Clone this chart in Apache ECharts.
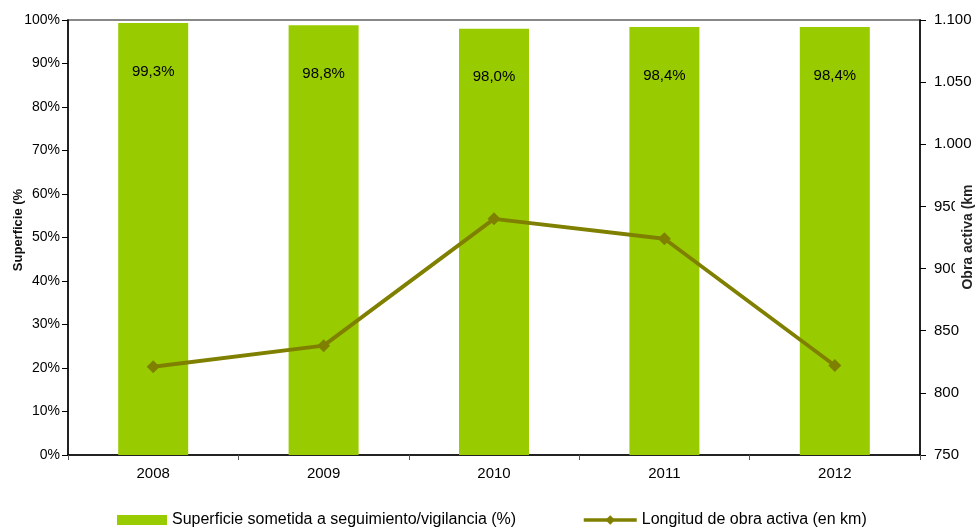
<!DOCTYPE html>
<html>
<head>
<meta charset="utf-8">
<script src="https://cdn.jsdelivr.net/npm/echarts@6/dist/echarts.min.js"></script>
<style>
  html, body { margin: 0; padding: 0; background: #fff; }
  #chart { width: 976px; height: 528px; }
</style>
</head>
<body>
<div id="chart"></div>
<script>
// Years on the category axis
const years = ['2008', '2009', '2010', '2011', '2012'];
// Share of surface under monitoring (%)
const superficie = [99.3, 98.8, 98.0, 98.4, 98.4];
// Length of active works (km)
const longitud = [821, 838, 940, 924, 822];

const barName = 'Superficie sometida a seguimiento/vigilancia (%)';
const lineName = 'Longitud de obra activa (en km)';
const FONT = '"Liberation Sans", Arial, sans-serif';
const TITLE_FONT = '"Liberation Sans Narrow", "Liberation Sans", Arial, sans-serif';

const chart = echarts.init(document.getElementById('chart'), null, { renderer: 'canvas' });

chart.setOption({
  backgroundColor: '#ffffff',
  animation: false,
  textStyle: { fontFamily: FONT },
  grid: {
    left: 68, right: 56, top: 20, bottom: 73,
    show: true, borderColor: '#888888', borderWidth: 2,
    containLabel: false
  },
  legend: [
    {
      data: [{ name: barName, icon: 'rect' }], left: 117, top: 512, padding: 0,
      itemWidth: 50, itemHeight: 10, itemGap: 5,
      textStyle: { fontFamily: FONT, fontSize: 16, color: '#000' }
    },
    {
      data: [lineName], left: 582, top: 512, padding: 0,
      itemWidth: 53, itemHeight: 12, itemGap: 2,
      lineStyle: { width: 3.5 },
      textStyle: { fontFamily: FONT, fontSize: 16, color: '#000' }
    }
  ],
  xAxis: {
    type: 'category',
    data: years,
    axisLine: { lineStyle: { color: '#000', width: 1.5 } },
    axisTick: { show: true, inside: false, length: 5, lineStyle: { color: '#555' } },
    axisLabel: { fontFamily: FONT, fontSize: 15, color: '#000', margin: 11 }
  },
  yAxis: [
    {
      type: 'value', min: 0, max: 100, interval: 10,
      axisLine: { show: true, lineStyle: { color: '#000', width: 1.5 } },
      axisTick: { show: true, length: 6, lineStyle: { color: '#000' } },
      splitLine: { show: false },
      axisLabel: { fontFamily: FONT, fontSize: 14, color: '#000', margin: 8, formatter: v => v + '%' }
    },
    {
      type: 'value', min: 750, max: 1100, interval: 50, position: 'right',
      axisLine: { show: true, lineStyle: { color: '#000', width: 1.5 } },
      axisTick: { show: true, length: 6, lineStyle: { color: '#000' } },
      splitLine: { show: false },
      axisLabel: {
        fontFamily: FONT, fontSize: 15, color: '#000', margin: 14,
        formatter: v => v >= 1000 ? Math.floor(v / 1000) + '.' + String(v % 1000).padStart(3, '0') : String(v)
      }
    }
  ],
  graphic: [
    {
      type: 'text', x: 18, y: 230, rotation: Math.PI / 2, z: 100,
      style: {
        text: 'Superficie (%', fontFamily: TITLE_FONT,
        fontSize: 13, fontWeight: 'bold', fill: '#111',
        align: 'center', verticalAlign: 'middle'
      }
    },
    {
      type: 'text', x: 968, y: 237, rotation: Math.PI / 2, z: 100,
      style: {
        text: 'Obra activa (km', fontFamily: TITLE_FONT,
        fontSize: 14, fontWeight: 'bold', fill: '#222',
        align: 'center', verticalAlign: 'middle',
        backgroundColor: '#ffffff', padding: [6, 3, 6, 3]
      }
    }
  ],
  series: [
    {
      name: barName,
      type: 'bar',
      yAxisIndex: 0,
      data: superficie,
      barWidth: 70,
      itemStyle: { color: '#99cc00' },
      label: {
        show: true, position: 'insideTop', distance: 41,
        fontFamily: FONT, fontSize: 15, color: '#000',
        formatter: p => p.value.toFixed(1).replace('.', ',') + '%'
      }
    },
    {
      name: lineName,
      type: 'line',
      yAxisIndex: 1,
      data: longitud,
      symbol: 'diamond',
      symbolSize: 13,
      lineStyle: { color: '#808000', width: 3.8 },
      itemStyle: { color: '#808000' },
      z: 5
    }
  ]
});
</script>
</body>
</html>
